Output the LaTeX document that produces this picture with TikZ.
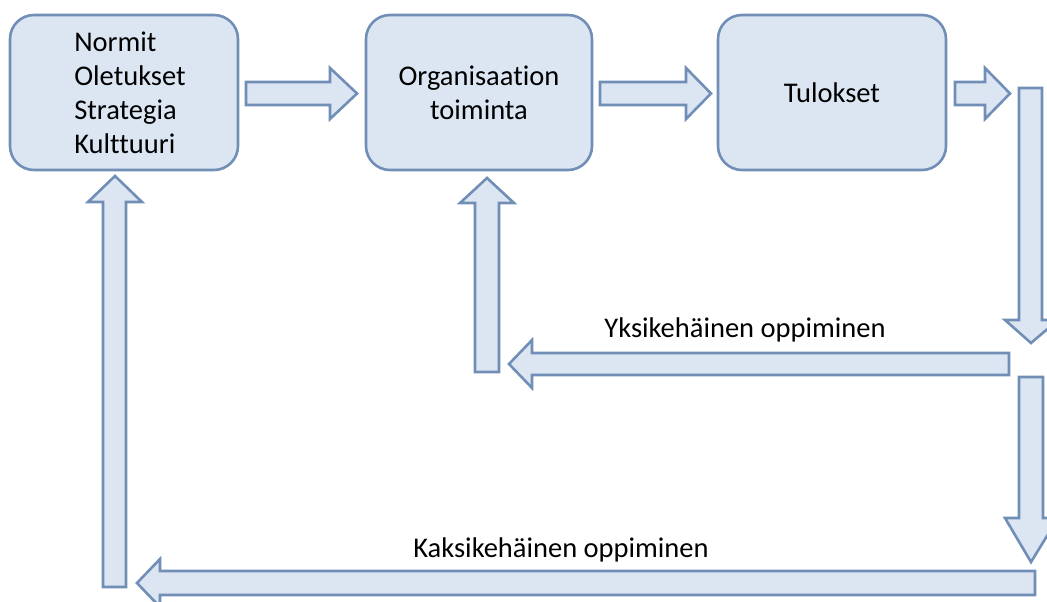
\documentclass[tikz,border=0pt]{standalone}
\usepackage{fontspec}
\setmainfont{Carlito}[Ligatures=NoCommon]
\definecolor{boxfill}{RGB}{220,230,242}
\definecolor{boxline}{RGB}{112,142,182}
\begin{document}
\begin{tikzpicture}[x=1pt,y=-1pt,
  stage/.style={draw=boxline, fill=boxfill, line width=2.6pt, rounded corners=24pt,
    minimum height=155pt, inner sep=0pt, font=\fontsize{28.5}{34}\selectfont},
  blk/.style={draw=boxline, fill=boxfill, line width=2.6pt, line join=miter},
  lbl/.style={font=\fontsize{28.5}{32}\selectfont, inner sep=0pt}]
\useasboundingbox (0,0) rectangle (1047,602);

% stages
\node[stage, minimum width=228pt, align=left] (norms) at (124,92.5)
  {\hspace*{12pt}Normit\\\hspace*{12pt}Oletukset\\\hspace*{12pt}Strategia\\\hspace*{12pt}Kulttuuri};
\node[stage, minimum width=226pt, align=center] (action) at (479,92.5) {Organisaation\\toiminta};
\node[stage, minimum width=228pt] (results) at (832,92.5) {Tulokset};

% block arrows between the stages
\draw[blk] (246,82) -- (330,82) -- (330,68) -- (357,93.5) -- (330,119) -- (330,105) -- (246,105) -- cycle;
\draw[blk] (600,82) -- (686,82) -- (686,68) -- (711,93.5) -- (686,119) -- (686,105) -- (600,105) -- cycle;
\draw[blk] (955,82) -- (985,82) -- (985,68) -- (1010,93.5) -- (985,119) -- (985,105) -- (955,105) -- cycle;

% feedback path on the right
\draw[blk] (1019,88) -- (1042,88) -- (1042,320) -- (1058,320) -- (1031,343) -- (1005,320) -- (1019,320) -- cycle;
\draw[blk] (1019,377) -- (1043,377) -- (1043,518) -- (1058,518) -- (1031,562) -- (1005,518) -- (1019,518) -- cycle;

% single-loop learning
\draw[blk] (1009,353) -- (532,353) -- (532,340) -- (509,364) -- (532,388) -- (532,375) -- (1009,375) -- cycle;
\draw[blk] (475,372) -- (475,203) -- (460,203) -- (487,178) -- (514,203) -- (499,203) -- (499,372) -- cycle;

% double-loop learning
\draw[blk] (1035,571) -- (160,571) -- (160,559) -- (137,583) -- (160,607) -- (160,595) -- (1035,595) -- cycle;
\draw[blk] (103,587) -- (103,202) -- (88,202) -- (115,176) -- (142,202) -- (126,202) -- (126,587) -- cycle;

\node[lbl] (single) at (745,330) {Yksikehäinen oppiminen};
\node[lbl] (double) at (561,550) {Kaksikehäinen oppiminen};
\end{tikzpicture}
\end{document}
